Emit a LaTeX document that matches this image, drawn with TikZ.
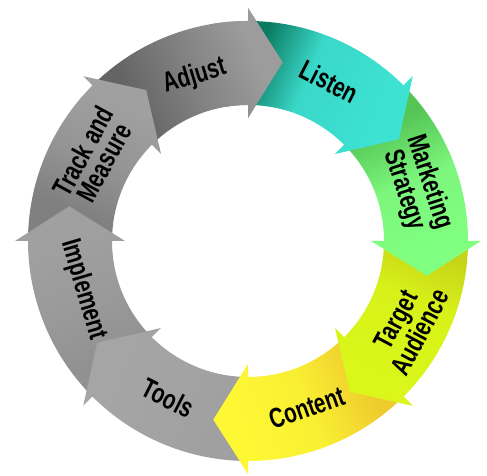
\documentclass[tikz,border=0pt]{standalone}
\usepackage{fontspec}
\newfontfamily\labfont{Liberation Sans}[FakeStretch=0.74]
\tikzset{
  lab/.style={font=\labfont\bfseries\fontsize{28}{24}\selectfont, text=black, align=center, inner sep=0pt}
}
\colorlet{segD}{black}\colorlet{segM}{gray}\colorlet{segL}{white}
\pgfdeclareverticalshading[segD,segM,segL]{segshade}{100bp}{%
  color(0bp)=(segL); color(30bp)=(segL); color(50bp)=(segM); color(68bp)=(segD); color(100bp)=(segD)}
\pgfdeclareverticalshading[segD,segM,segL]{tailshade}{100bp}{%
  color(0bp)=(segL); color(30bp)=(segL); color(58bp)=(segM); color(76bp)=(segD); color(100bp)=(segD)}
% #1 tail angle, #2 shading angle, #3 dark, #4 middle, #5 light, #6 shading
\newcommand\ringseg[6]{%
  \colorlet{segD}{#3}\colorlet{segM}{#4}\colorlet{segL}{#5}%
  \shade[shading=#6, shading angle=#2]
    (#1:220bp) arc[start angle=#1, end angle=#1-45, radius=220bp]
    -- (#1-45:233bp) -- (#1-56:182bp) -- (#1-45:123bp) -- (#1-45:136bp)
    arc[start angle=#1-45, end angle=#1, radius=136bp] -- cycle;}
\begin{document}
\begin{tikzpicture}[x=1bp,y=1bp]
\useasboundingbox (0,0) rectangle (487,476);
\begin{scope}[shift={(248bp,235bp)}]
  \definecolor{adjD}{HTML}{646464}\definecolor{adjM}{HTML}{808080}\definecolor{adjL}{HTML}{9C9C9C}
  \definecolor{trkD}{HTML}{808080}\definecolor{trkM}{HTML}{949494}\definecolor{trkL}{HTML}{A0A0A0}
  \definecolor{impD}{HTML}{919191}\definecolor{impM}{HTML}{9A9A9A}\definecolor{impL}{HTML}{A0A0A0}
  \definecolor{tooD}{HTML}{A0A0A0}\definecolor{tooM}{HTML}{A3A3A3}\definecolor{tooL}{HTML}{A5A5A5}
  \definecolor{conD}{HTML}{EFCC2E}\definecolor{conM}{HTML}{F9EF33}\definecolor{conL}{HTML}{FDF734}
  \definecolor{tarD}{HTML}{C6D418}\definecolor{tarM}{HTML}{D8F219}\definecolor{tarL}{HTML}{DAF61A}
  \definecolor{mkD}{HTML}{55C655}\definecolor{mkM}{HTML}{7CF67C}\definecolor{mkL}{HTML}{80FF80}
  \definecolor{lisD}{HTML}{0B7A62}\definecolor{lisM}{HTML}{3AD8C8}\definecolor{lisL}{HTML}{3DE2D3}
  \ringseg{135}{112.5}{adjD}{adjM}{adjL}{segshade}
  \ringseg{180}{157.5}{trkD}{trkM}{trkL}{segshade}
  \ringseg{-135}{-157.5}{impD}{impM}{impL}{segshade}
  \ringseg{-90}{-112.5}{tooD}{tooM}{tooL}{segshade}
  \ringseg{-45}{-67.5}{conD}{conM}{conL}{segshade}
  \ringseg{0}{-22.5}{tarD}{tarM}{tarL}{tailshade}
  \ringseg{45}{22.5}{mkD}{mkM}{mkL}{segshade}
  \ringseg{90}{67.5}{lisD}{lisM}{lisL}{tailshade}
  \begin{scope}
    \clip (0,0) -- (100:260bp) -- (70:260bp) -- cycle;
    \ringseg{135}{112.5}{adjD}{adjM}{adjL}{segshade}
  \end{scope}
  \node[lab, rotate=17] (adjust) at (108:173bp) {Adjust};
  \node[lab, rotate=-27] (listen) at (63:179bp) {Listen};
  \node[lab, rotate=-72] (marketing) at (18:177bp) {Marketing\\Strategy};
  \node[lab, rotate=62] (target) at (-28:181bp) {Target\\Audience};
  \node[lab, rotate=19.5] (content) at (-70.5:177bp) {Content};
  \node[lab, rotate=-27] (tools) at (-117:176bp) {Tools};
  \node[lab, rotate=-73.5] (implement) at (-163.5:172bp) {Implement};
  \node[lab, rotate=61.5] (track) at (151.5:176bp) {Track and\\Measure};
\end{scope}
\end{tikzpicture}
\end{document}
